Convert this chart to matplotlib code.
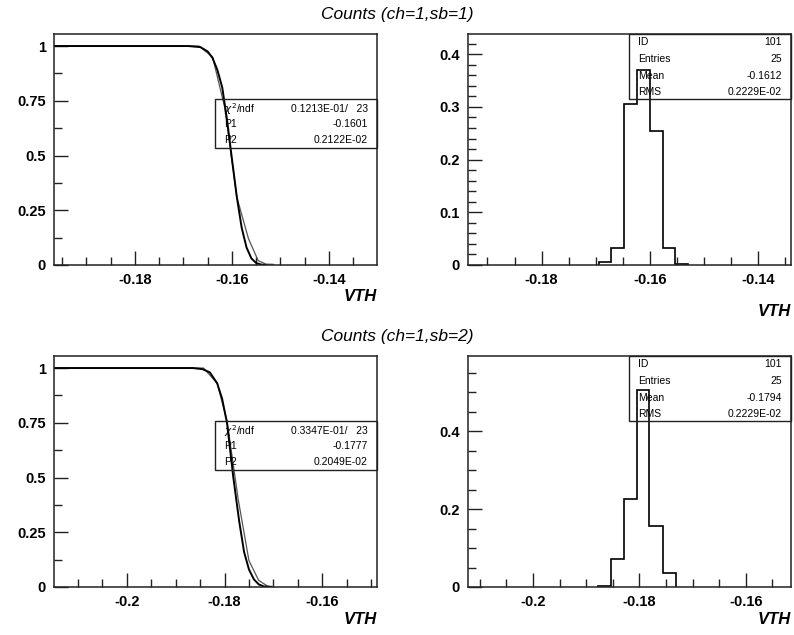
#!/usr/bin/env python3
"""Threshold scan: efficiency vs VTH with fit, and derivative histogram."""
import matplotlib
matplotlib.use("Agg")
import matplotlib.pyplot as plt
from matplotlib.patches import Rectangle
from matplotlib.ticker import FixedLocator, MultipleLocator

plt.rcParams["axes.unicode_minus"] = False
plt.rcParams["font.family"] = ["Liberation Sans", "DejaVu Sans"]

# --- sb=1 efficiency curve (data, thin) and erf fit (thick)
TL_DATA_X = [-0.1967, -0.1668, -0.1640, -0.1615, -0.1590, -0.1566, -0.1546, -0.1530, -0.1515]
TL_DATA_Y = [1.0, 1.0, 0.95, 0.72, 0.31, 0.12, 0.02, 0.004, 0.003]
TL_FIT_X = [-0.1967, -0.1690, -0.1665, -0.1650, -0.1640, -0.1630, -0.1620, -0.1610,
            -0.1601, -0.1590, -0.1580, -0.1570, -0.1560, -0.1550, -0.1540, -0.1530]
TL_FIT_Y = [1.0, 1.0, 0.995, 0.975, 0.945, 0.89, 0.81, 0.66,
            0.50, 0.31, 0.17, 0.08, 0.03, 0.009, 0.002, 0.0]

# --- sb=1 histogram
TR_EDGES = [-0.1694, -0.1672, -0.1648, -0.1624, -0.1599, -0.1575, -0.1553, -0.1529]
TR_HEIGHTS = [0.005, 0.032, 0.305, 0.371, 0.255, 0.032, 0.002]

# --- sb=2 efficiency curve and fit
BL_DATA_X = [-0.2149, -0.1843, -0.1815, -0.1795, -0.1772, -0.1750, -0.1730, -0.1712, -0.1700]
BL_DATA_Y = [1.0, 1.0, 0.93, 0.76, 0.40, 0.12, 0.03, 0.004, 0.002]
BL_FIT_X = [-0.2149, -0.1865, -0.1845, -0.1830, -0.1815, -0.1805, -0.1795, -0.1782,
            -0.1770, -0.1760, -0.1750, -0.1740, -0.1730, -0.1720, -0.1705]
BL_FIT_Y = [1.0, 1.0, 0.995, 0.98, 0.93, 0.86, 0.75, 0.50,
            0.30, 0.16, 0.08, 0.035, 0.012, 0.003, 0.0]

# --- sb=2 histogram
BR_EDGES = [-0.1877, -0.1854, -0.1829, -0.1805, -0.1781, -0.1755, -0.1732]
BR_HEIGHTS = [0.002, 0.073, 0.225, 0.505, 0.157, 0.037]

FIT_ROWS_1 = [(r"$\chi^2$/ndf", "0.1213E-01/   23"), ("P1", "-0.1601"), ("P2", "0.2122E-02")]
FIT_ROWS_2 = [(r"$\chi^2$/ndf", "0.3347E-01/   23"), ("P1", "-0.1777"), ("P2", "0.2049E-02")]
STAT_ROWS_1 = [("ID", "101"), ("Entries", "25"), ("Mean", "-0.1612"), ("RMS", "0.2229E-02")]
STAT_ROWS_2 = [("ID", "101"), ("Entries", "25"), ("Mean", "-0.1794"), ("RMS", "0.2229E-02")]

W, H = 794, 635


def _axes(fig, x0, y0, x1, y1):
    return fig.add_axes([x0 / W, 1 - y1 / H, (x1 - x0) / W, (y1 - y0) / H])


def _style(ax, xlim, ylim, xmaj, xlabels, ymaj, ylabels, xminor, yminor):
    ax.set_xlim(*xlim)
    ax.set_ylim(*ylim)
    ax.xaxis.set_major_locator(FixedLocator(xmaj))
    ax.set_xticklabels(xlabels)
    ax.yaxis.set_major_locator(FixedLocator(ymaj))
    ax.set_yticklabels(ylabels)
    ax.xaxis.set_minor_locator(MultipleLocator(xminor))
    ax.yaxis.set_minor_locator(MultipleLocator(yminor))
    ax.tick_params(which="both", direction="in", top=False, right=False, width=1.0, color="#222")
    ax.tick_params(which="major", length=10, labelsize=10.5, pad=6)
    ax.tick_params(which="minor", length=5.5)
    for lab in ax.get_xticklabels() + ax.get_yticklabels():
        lab.set_fontweight("bold")
    for sp in ax.spines.values():
        sp.set_linewidth(1.1)
        sp.set_color("#222")


def _box(ax, x0, y0, y1, rows, ys):
    ax.add_patch(Rectangle((x0, y0), 1 - x0, y1 - y0, transform=ax.transAxes,
                           fill=False, lw=1.0, ec="#222", clip_on=False, zorder=5))
    for (k, v), y in zip(rows, ys):
        ax.text(x0 + 0.028, y, k, transform=ax.transAxes, fontsize=7.5, va="center", ha="left", zorder=6)
        ax.text(0.972, y, v, transform=ax.transAxes, fontsize=7.5, va="center", ha="right", zorder=6)


fig = plt.figure(figsize=(W / 100, H / 100), dpi=100)
fig.patch.set_facecolor("white")

# top-left
ax = _axes(fig, 54, 34, 377, 265)
ax.plot(TL_DATA_X, TL_DATA_Y, color="#555", lw=0.9)
ax.plot(TL_FIT_X, TL_FIT_Y, color="k", lw=1.4)
_style(ax, (-0.1967, -0.1301), (0, 1.055), [-0.18, -0.16, -0.14], ["-0.18", "-0.16", "-0.14"],
       [0, 0.25, 0.5, 0.75, 1], ["0", "0.25", "0.5", "0.75", "1"], 0.005, 0.125)
_box(ax, 0.498, 0.508, 0.719, FIT_ROWS_1, [0.675, 0.610, 0.540])

# top-right
ax = _axes(fig, 468, 34, 791, 265)
ax.stairs(TR_HEIGHTS, TR_EDGES, color="k", lw=1.2)
_style(ax, (-0.1936, -0.1339), (0, 0.4385), [-0.18, -0.16, -0.14], ["-0.18", "-0.16", "-0.14"],
       [0, 0.1, 0.2, 0.3, 0.4], ["0", "0.1", "0.2", "0.3", "0.4"], 0.005, 0.02)
_box(ax, 0.498, 0.719, 1.0, STAT_ROWS_1, [0.965, 0.892, 0.818, 0.749])

# bottom-left
ax = _axes(fig, 54, 356, 377, 587)
ax.plot(BL_DATA_X, BL_DATA_Y, color="#555", lw=0.9)
ax.plot(BL_FIT_X, BL_FIT_Y, color="k", lw=1.4)
_style(ax, (-0.2149, -0.1488), (0, 1.055), [-0.2, -0.18, -0.16], ["-0.2", "-0.18", "-0.16"],
       [0, 0.25, 0.5, 0.75, 1], ["0", "0.25", "0.5", "0.75", "1"], 0.005, 0.125)
_box(ax, 0.498, 0.505, 0.717, FIT_ROWS_2, [0.674, 0.609, 0.542])

# bottom-right
ax = _axes(fig, 468, 356, 791, 587)
ax.stairs(BR_HEIGHTS, BR_EDGES, color="k", lw=1.2)
_style(ax, (-0.2122, -0.1515), (0, 0.5935), [-0.2, -0.18, -0.16], ["-0.2", "-0.18", "-0.16"],
       [0, 0.2, 0.4], ["0", "0.2", "0.4"], 0.005, 0.05)
_box(ax, 0.498, 0.720, 1.0, STAT_ROWS_2, [0.965, 0.892, 0.818, 0.749])

# titles and axis names
fig.text(397 / W, 1 - 14 / H, "Counts (ch=1,sb=1)", ha="center", va="center", fontsize=12.5, style="italic")
fig.text(397 / W, 1 - 337 / H, "Counts (ch=1,sb=2)", ha="center", va="center", fontsize=12.5, style="italic")
for x, y in [(377, 297), (791, 312), (377, 620), (791, 620)]:
    fig.text(x / W, 1 - y / H, "VTH", ha="right", va="center", fontsize=12, style="italic", weight="bold")

fig.savefig("out.png", dpi=100, facecolor="white")
